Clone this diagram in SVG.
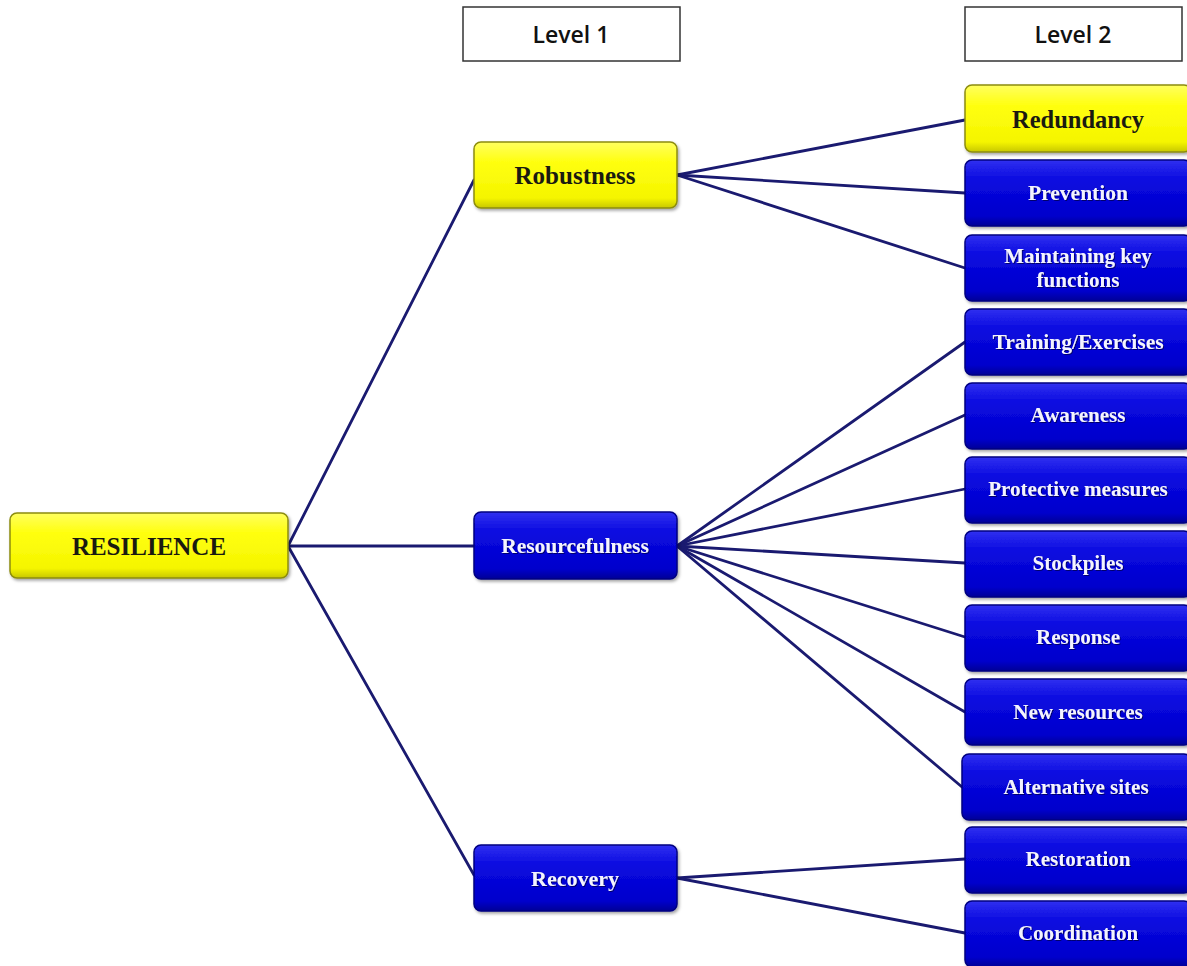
<svg xmlns="http://www.w3.org/2000/svg" width="1187" height="966" viewBox="0 0 1187 966">
<defs>
<linearGradient id="gBlue" x1="0" y1="0" x2="0" y2="1">
<stop offset="0" stop-color="#3030f0"/>
<stop offset="0.3" stop-color="#0a0ae0"/>
<stop offset="0.85" stop-color="#0000cc"/>
<stop offset="1" stop-color="#000096"/>
</linearGradient>
<linearGradient id="gYellow" x1="0" y1="0" x2="0" y2="1">
<stop offset="0" stop-color="#ffff60"/>
<stop offset="0.3" stop-color="#ffff10"/>
<stop offset="0.85" stop-color="#f5f500"/>
<stop offset="1" stop-color="#c8c800"/>
</linearGradient>
<filter id="sh" x="-10%" y="-10%" width="120%" height="130%">
<feDropShadow dx="1.5" dy="2" stdDeviation="1.5" flood-color="#000" flood-opacity="0.35"/>
</filter>
<filter id="tsh" x="-10%" y="-20%" width="120%" height="150%">
<feDropShadow dx="1" dy="1" stdDeviation="0.6" flood-color="#000040" flood-opacity="0.7"/>
</filter>
</defs>
<style>
.blue{fill:url(#gBlue);stroke:#000080;stroke-width:1.5;filter:url(#sh)}
.yel{fill:url(#gYellow);stroke:#8c8c10;stroke-width:1.5;filter:url(#sh)}
.lvl{fill:#fff;stroke:#333;stroke-width:1.5}
.tw{font-family:"Liberation Serif","Times New Roman",serif;font-weight:bold;fill:#f4f4ff;text-anchor:middle;filter:url(#tsh)}
.tb{font-family:"Liberation Serif","Times New Roman",serif;font-weight:bold;fill:#1a1a10;text-anchor:middle}
.tl{font-family:"Open Sans","Liberation Sans",sans-serif;font-weight:600;fill:#111;text-anchor:middle;font-size:23px}
.c{stroke:#1a1a70;stroke-width:2.8;fill:none;stroke-linecap:round}
</style>
<rect width="1187" height="966" fill="#fff"/>
<g id="connectors">
<line class="c" x1="288" y1="546" x2="474" y2="180"/>
<line class="c" x1="288" y1="546" x2="474" y2="546"/>
<line class="c" x1="288" y1="546" x2="474" y2="875"/>
<line class="c" x1="677" y1="175" x2="965" y2="120"/>
<line class="c" x1="677" y1="175" x2="965" y2="193"/>
<line class="c" x1="677" y1="175" x2="965" y2="268"/>
<line class="c" x1="677" y1="546" x2="965" y2="342"/>
<line class="c" x1="677" y1="546" x2="965" y2="415"/>
<line class="c" x1="677" y1="546" x2="965" y2="489"/>
<line class="c" x1="677" y1="546" x2="965" y2="563"/>
<line class="c" x1="677" y1="546" x2="965" y2="637"/>
<line class="c" x1="677" y1="546" x2="965" y2="712"/>
<line class="c" x1="677" y1="546" x2="962" y2="787"/>
<line class="c" x1="677" y1="878" x2="965" y2="859"/>
<line class="c" x1="677" y1="878" x2="965" y2="933"/>
</g>
<g id="level1"><rect class="lvl" x="463" y="7" width="217" height="54"/><text class="tl" x="571" y="43">Level 1</text></g>
<g id="level2"><rect class="lvl" x="965" y="7" width="217" height="54"/><text class="tl" x="1073" y="43">Level 2</text></g>
<g id="resilience"><rect class="yel" x="10" y="513" width="278" height="65" rx="7"/><text class="tb" x="149" y="555" font-size="25">RESILIENCE</text></g>
<g id="robustness"><rect class="yel" x="474" y="142" width="203" height="66" rx="7"/><text class="tb" x="575" y="184" font-size="25">Robustness</text></g>
<g id="resourcefulness"><rect class="blue" x="474" y="512" width="203" height="67" rx="7"/><text class="tw" x="575" y="553" font-size="21.5">Resourcefulness</text></g>
<g id="recovery"><rect class="blue" x="474" y="845" width="203" height="66" rx="7"/><text class="tw" x="575" y="886" font-size="22">Recovery</text></g>
<g id="redundancy"><rect class="yel" x="965" y="85" width="226" height="67" rx="7"/><text class="tb" x="1078" y="128" font-size="24.5">Redundancy</text></g>
<g id="prevention"><rect class="blue" x="965" y="160" width="226" height="66" rx="7"/><text class="tw" x="1078" y="200" font-size="21.5">Prevention</text></g>
<g id="maintaining"><rect class="blue" x="965" y="235" width="226" height="66" rx="7"/><text class="tw" x="1078" y="263" font-size="21">Maintaining key</text><text class="tw" x="1078" y="287" font-size="21">functions</text></g>
<g id="training"><rect class="blue" x="965" y="309" width="226" height="66" rx="7"/><text class="tw" x="1078" y="349" font-size="21.5">Training/Exercises</text></g>
<g id="awareness"><rect class="blue" x="965" y="383" width="226" height="66" rx="7"/><text class="tw" x="1078" y="422" font-size="21">Awareness</text></g>
<g id="protective"><rect class="blue" x="965" y="457" width="226" height="66" rx="7"/><text class="tw" x="1078" y="496" font-size="21">Protective measures</text></g>
<g id="stockpiles"><rect class="blue" x="965" y="531" width="226" height="66" rx="7"/><text class="tw" x="1078" y="570" font-size="21">Stockpiles</text></g>
<g id="response"><rect class="blue" x="965" y="605" width="226" height="66" rx="7"/><text class="tw" x="1078" y="644" font-size="21">Response</text></g>
<g id="newresources"><rect class="blue" x="965" y="679" width="226" height="66" rx="7"/><text class="tw" x="1078" y="719" font-size="21">New resources</text></g>
<g id="alternative"><rect class="blue" x="962" y="754" width="229" height="66" rx="7"/><text class="tw" x="1076" y="794" font-size="21">Alternative sites</text></g>
<g id="restoration"><rect class="blue" x="965" y="827" width="226" height="66" rx="7"/><text class="tw" x="1078" y="866" font-size="21">Restoration</text></g>
<g id="coordination"><rect class="blue" x="965" y="901" width="226" height="66" rx="7"/><text class="tw" x="1078" y="940" font-size="21">Coordination</text></g>
</svg>
